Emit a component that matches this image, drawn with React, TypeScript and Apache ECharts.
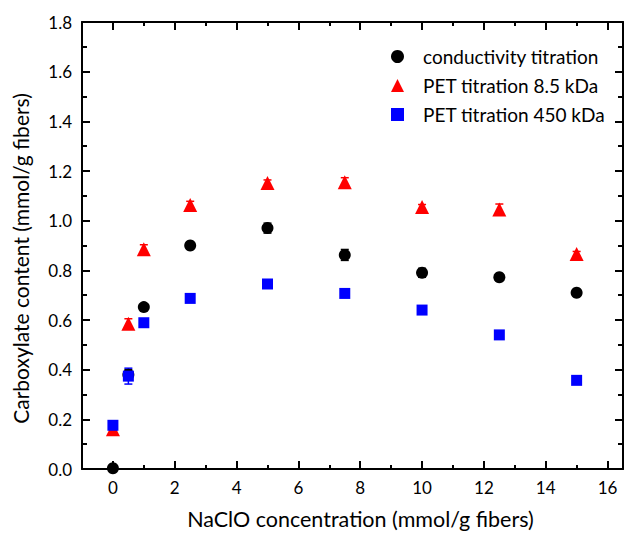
import React, { useEffect, useRef } from "react";
import * as echarts from "echarts";

const concentrations = [0, 0.5, 1, 2.5, 5, 7.5, 10, 12.5, 15];
const conductivity = [0.003, 0.38, 0.652, 0.9, 0.97, 0.862, 0.79, 0.772, 0.71];
const conductivityErr = [0.01, 0.02, 0.01, 0.01, 0.02, 0.022, 0.018, 0.01, 0.01];
const pet85 = [0.16, 0.585, 0.885, 1.063, 1.152, 1.155, 1.055, 1.045, 0.866];
const pet85Err = [0.02, 0.02, 0.018, 0.015, 0.012, 0.018, 0.01, 0.022, 0.01];
const pet450 = [0.176, 0.374, 0.589, 0.687, 0.745, 0.707, 0.64, 0.54, 0.357];
const pet450Err = [0.01, 0.032, 0.01, 0.01, 0.01, 0.01, 0.01, 0.01, 0.01];
const seriesNames = ["conductivity titration", "PET titration 8.5 kDa", "PET titration 450 kDa"];
const majorXTicks = [0, 2, 4, 6, 8, 10, 12, 14, 16];
const minorXTicks = [1, 3, 5, 7, 9, 11, 13, 15];

const FONT = "Lato";

function errorSeries(vals: number[], errs: number[], color: string) {
  return {
    type: "custom",
    z: 1,
    silent: true,
    clip: true,
    data: concentrations.map((x, i) => [x, vals[i], errs[i]]),
    renderItem: (params: any, api: any) => {
      const x = api.value(0);
      const y = api.value(1);
      const e = api.value(2);
      const lo = api.coord([x, y - e]);
      const hi = api.coord([x, y + e]);
      const w = 4;
      const style = { stroke: color, lineWidth: 1.5 };
      return {
        type: "group",
        children: [
          { type: "line", shape: { x1: lo[0], y1: lo[1], x2: hi[0], y2: hi[1] }, style },
          { type: "line", shape: { x1: lo[0] - w, y1: lo[1], x2: lo[0] + w, y2: lo[1] }, style },
          { type: "line", shape: { x1: hi[0] - w, y1: hi[1], x2: hi[0] + w, y2: hi[1] }, style },
        ],
      };
    },
  };
}

export default function App() {
  const ref = useRef<HTMLDivElement>(null);
  useEffect(() => {
    if (!ref.current) return;
    const chart = echarts.init(ref.current, undefined, { renderer: "svg" });
    const axisLine = { show: true, onZero: false, lineStyle: { color: "#000", width: 2 } };
    const tickStyle = { width: 2, color: "#000" };
    const baseX = {
      type: "value",
      min: -1,
      max: 16.5,
      splitLine: { show: false },
      axisLine,
    };
    const baseY = {
      type: "value",
      min: 0,
      max: 1.8,
      interval: 0.2,
      splitLine: { show: false },
      axisLine,
    };
    chart.setOption({
      animation: false,
      backgroundColor: "#fff",
      textStyle: { fontFamily: FONT },
      grid: { left: 82, right: 10, top: 22, bottom: 68, containLabel: false, outerBoundsMode: "none" },
      legend: {
        orient: "vertical",
        left: 386,
        top: 42,
        itemWidth: 13,
        itemHeight: 13,
        itemGap: 10,
        textStyle: { fontSize: 19, color: "#000", fontFamily: FONT, padding: [0, 0, 0, 14] },
        data: [
          { name: seriesNames[0], icon: "circle" },
          { name: seriesNames[1], icon: "triangle" },
          { name: seriesNames[2], icon: "rect" },
        ],
      },
      xAxis: [
        {
          ...baseX,
          position: "bottom",
          name: "NaClO concentration (mmol/g fibers)",
          nameLocation: "middle",
          nameGap: 39,
          nameTextStyle: { fontSize: 21.5, color: "#000", fontFamily: FONT, padding: [0, 0, 0, 16] },
          axisTick: { show: true, inside: true, length: 8, lineStyle: tickStyle, customValues: majorXTicks },
          axisLabel: { show: true, fontSize: 17, color: "#000", margin: 10, customValues: majorXTicks, fontFamily: FONT },
        },
        {
          ...baseX,
          position: "bottom",
          axisLine: { show: false, onZero: false },
          axisTick: { show: true, inside: true, length: 4, lineStyle: tickStyle, customValues: minorXTicks },
          axisLabel: { show: false },
        },
        {
          ...baseX,
          position: "top",
          axisTick: { show: true, inside: true, length: 8, lineStyle: tickStyle, customValues: majorXTicks },
          axisLabel: { show: false },
        },
        {
          ...baseX,
          position: "top",
          axisLine: { show: false, onZero: false },
          axisTick: { show: true, inside: true, length: 4, lineStyle: tickStyle, customValues: minorXTicks },
          axisLabel: { show: false },
        },
      ],
      yAxis: [
        {
          ...baseY,
          position: "left",
          name: "Carboxylate content (mmol/g fibers)",
          nameLocation: "middle",
          nameGap: 51,
          nameTextStyle: { fontSize: 21, color: "#000", fontFamily: FONT, padding: [0, 26, 0, 0] },
          axisTick: { show: true, inside: true, length: 8, lineStyle: tickStyle },
          minorTick: { show: true, splitNumber: 2, length: 5, lineStyle: tickStyle },
          axisLabel: { show: true, fontSize: 17, color: "#000", margin: 10, formatter: (v: number) => v.toFixed(1), fontFamily: FONT },
        },
        {
          ...baseY,
          position: "right",
          axisTick: { show: true, inside: true, length: 8, lineStyle: tickStyle },
          minorTick: { show: true, splitNumber: 2, length: 5, lineStyle: tickStyle },
          axisLabel: { show: false },
        },
      ],
      series: [
        errorSeries(conductivity, conductivityErr, "#000"),
        errorSeries(pet85, pet85Err, "#ff0000"),
        errorSeries(pet450, pet450Err, "#0000ff"),
        {
          name: seriesNames[0],
          type: "scatter",
          symbol: "circle",
          symbolSize: 12,
          z: 2,
          clip: true,
          itemStyle: { color: "#000", opacity: 1 },
          data: concentrations.map((x, i) => [x, conductivity[i]]),
        },
        {
          name: seriesNames[1],
          type: "scatter",
          symbol: "triangle",
          symbolSize: 14,
          z: 3,
          clip: true,
          itemStyle: { color: "#ff0000", opacity: 1 },
          data: concentrations.map((x, i) => [x, pet85[i]]),
        },
        {
          name: seriesNames[2],
          type: "scatter",
          symbol: "rect",
          symbolSize: 11,
          z: 4,
          clip: true,
          itemStyle: { color: "#0000ff", opacity: 1 },
          data: concentrations.map((x, i) => [x, pet450[i]]),
        },
      ],
    });
    return () => chart.dispose();
  }, []);
  return <div ref={ref} style={{ width: 633, height: 537, position: "absolute", left: 0, top: 0 }} />;
}
